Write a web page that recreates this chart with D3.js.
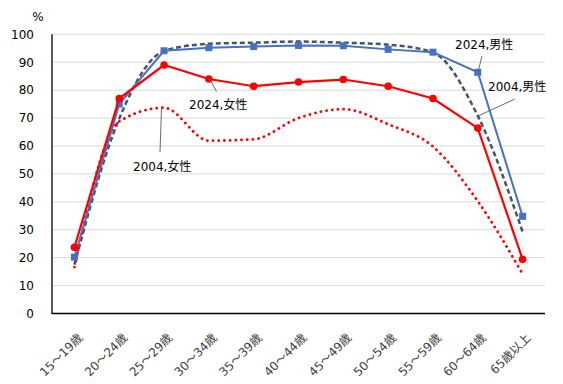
<!DOCTYPE html>
<html><head><meta charset="utf-8">
<script src="https://cdn.jsdelivr.net/npm/d3@7"></script>
<style>body{margin:0;background:#fff}svg{display:block}text{font-family:"DejaVu Sans","Noto Sans CJK JP",sans-serif}</style>
</head><body>
<svg id="c" width="563" height="384"></svg>
<script>
const categories = ["15～19歳","20～24歳","25～29歳","30～34歳","35～39歳","40～44歳","45～49歳","50～54歳","55～59歳","60～64歳","65歳以上"];
const male2024   = [20.2, 75.0, 94.1, 95.2, 95.6, 96.0, 95.9, 94.6, 93.6, 86.4, 34.8];
const female2024 = [23.7, 77.0, 89.0, 84.0, 81.4, 82.9, 83.8, 81.4, 77.0, 66.4, 19.4];
const male2004   = [17.5, 69.8, 94.0, 96.6, 97.0, 97.4, 97.0, 96.3, 93.5, 70.8, 29.3];
const female2004 = [16.6, 68.8, 73.7, 61.9, 62.4, 70.0, 73.2, 67.8, 59.8, 40.2, 14.2];
const yTicks = [0,10,20,30,40,50,60,70,80,90,100];

const svg = d3.select("#c");
const L = 52, R = 545, T = 34.3, B = 313.5;
const x = d3.scaleBand().domain(categories).range([L, R]);
const y = d3.scaleLinear().domain([0, 100]).range([B, T]);
const cx = d => x(d) + x.bandwidth() / 2;

// gridlines
svg.append("g").selectAll("line").data(yTicks.filter(t => t > 0)).join("line")
  .attr("x1", L).attr("x2", R).attr("y1", d => y(d)).attr("y2", d => y(d))
  .attr("stroke", "#d9d9d9").attr("stroke-width", 1);

// y axis labels
const yAxis = d3.axisLeft(y).tickValues(yTicks).tickSize(0).tickPadding(18);
const gy = svg.append("g").attr("transform", `translate(${L},0)`).call(yAxis);
gy.select(".domain").remove();
gy.selectAll("text").attr("font-size", 12).attr("fill", "#000")
  .style("font-family", '"DejaVu Sans",sans-serif');
svg.append("text").attr("x", 38).attr("y", 21).attr("text-anchor", "middle")
  .attr("font-size", 12).text("%");

// x axis
const xAxis = d3.axisBottom(x).tickSize(0).tickPadding(0);
const gx = svg.append("g").attr("transform", `translate(0,${B})`).call(xAxis);
gx.select(".domain").remove();
gx.selectAll("text").attr("font-size", 12).attr("fill", "#404040")
  .attr("text-anchor", "end").attr("dy", 0)
  .attr("transform", "translate(9,25) rotate(-45)");

// axis lines
svg.append("line").attr("x1", L).attr("x2", L).attr("y1", T).attr("y2", B + 0.5).attr("stroke", "#000").attr("stroke-width", 1.3);
svg.append("line").attr("x1", L).attr("x2", R).attr("y1", B).attr("y2", B).attr("stroke", "#000").attr("stroke-width", 1.3);

const straight = d3.line().x((d, i) => cx(categories[i])).y(d => y(d));
const smooth = d3.line().x((d, i) => cx(categories[i])).y(d => y(d)).curve(d3.curveMonotoneX);

svg.append("path").attr("d", smooth(male2004)).attr("fill", "none")
  .attr("stroke", "#44546a").attr("stroke-width", 2.5).attr("stroke-dasharray", "5,3");
svg.append("path").attr("d", smooth(female2004)).attr("fill", "none")
  .attr("stroke", "#ff0000").attr("stroke-width", 2.8).attr("stroke-linecap", "round").attr("stroke-dasharray", "0.1,5.6");

svg.append("path").attr("d", straight(male2024)).attr("fill", "none")
  .attr("stroke", "#4472c4").attr("stroke-width", 2);
svg.append("g").selectAll("rect").data(male2024).join("rect")
  .attr("x", (d, i) => cx(categories[i]) - 3.5).attr("y", d => y(d) - 3.5)
  .attr("width", 7).attr("height", 7).attr("fill", "#4472c4");

svg.append("path").attr("d", straight(female2024)).attr("fill", "none")
  .attr("stroke", "#ff0000").attr("stroke-width", 2.2);
svg.append("g").selectAll("circle").data(female2024).join("circle")
  .attr("cx", (d, i) => cx(categories[i])).attr("cy", d => y(d)).attr("r", 3.8).attr("fill", "#ff0000");

// annotations
const ann = [
  {t: "2024,男性", tx: 455, ty: 49, x1: 482, y1: 56, x2: 478, y2: 72},
  {t: "2004,男性", tx: 488, ty: 91, x1: 515, y1: 99, x2: 478, y2: 116},
  {t: "2024,女性", tx: 189, ty: 109, x1: 216.5, y1: 91.5, x2: 209.5, y2: 78.5},
  {t: "2004,女性", tx: 133, ty: 171, x1: 160, y1: 152, x2: 161.5, y2: 108.5}
];
ann.forEach(a => {
  svg.append("line").attr("x1", a.x1).attr("y1", a.y1).attr("x2", a.x2).attr("y2", a.y2)
    .attr("stroke", "#595959").attr("stroke-width", 0.9);
  svg.append("text").attr("x", a.tx).attr("y", a.ty).attr("font-size", 12).attr("fill", "#000").text(a.t);
});
</script>
</body></html>
